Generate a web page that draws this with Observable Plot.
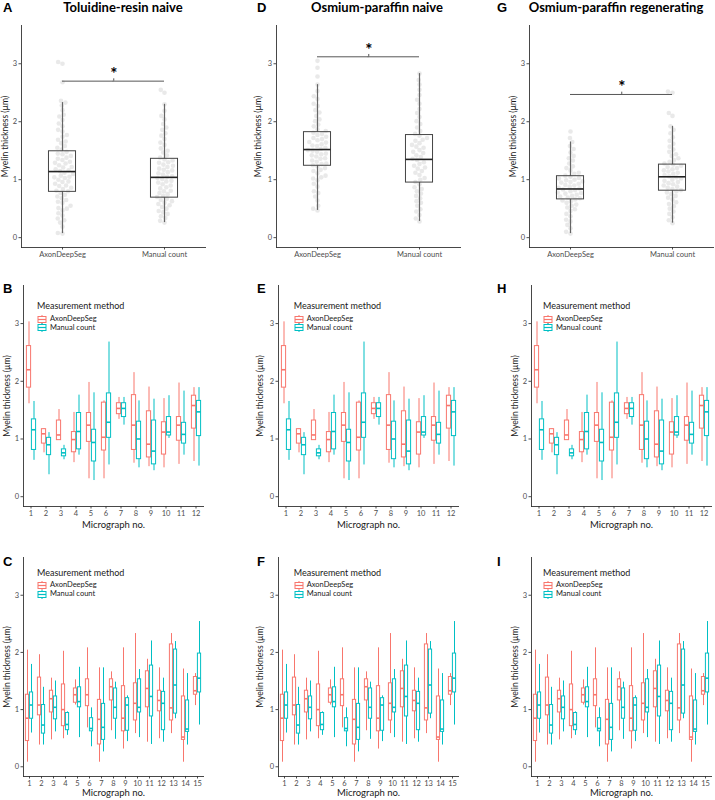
<!DOCTYPE html>
<html><head><meta charset="utf-8">
<script src="https://cdn.jsdelivr.net/npm/d3@7"></script>
<script src="https://cdn.jsdelivr.net/npm/@observablehq/plot@0.6"></script>
<style>
html,body{margin:0;padding:0}
body{width:715px;height:800px;overflow:hidden;background:#fff;position:relative;font-family:Lato,sans-serif}
.panel{position:absolute}
.panel svg{max-width:none !important}
.letter{position:absolute;font-family:"Liberation Sans",Arial,sans-serif;font-weight:bold;font-size:13px;line-height:1;color:#000}
.title{position:absolute;font-family:Lato,sans-serif;font-weight:bold;font-size:13px;line-height:14px;white-space:nowrap;transform:translateX(-50%);color:#000}
.lg{position:absolute;font-family:Lato,sans-serif;color:#1a1a1a;white-space:nowrap;line-height:1}
.lgt{font-size:9px}
.lge{font-size:7.5px;display:flex;align-items:center}
.lge svg{margin-right:3px}
g[aria-label="y-axis label"] text{font-size:8.5px;fill:#1a1a1a}
g[aria-label="fx-axis label"] text{font-size:9.5px;fill:#1a1a1a}
</style></head><body>
<script>
// ---------- data ----------
const methods = ["AxonDeepSeg", "Manual count"];
const colors = ["#F8766D", "#00BFC4"];
const yTicks = [0, 1, 2, 3];
const panelTitles = ["Toluidine-resin naive", "Osmium-paraffin naive", "Osmium-paraffin regenerating"];
const letters = [["A", "B", "C"], ["D", "E", "F"], ["G", "H", "I"]];
const legendTitle = "Measurement method";
const xLabelMicro = "Micrograph no.";
const yLabel = "Myelin thickness (µm)";

// top row box summaries [lo, q1, median, q3, hi]
const topADS = [[0.07, 0.79, 1.14, 1.49, 2.33], [0.47, 1.24, 1.52, 1.82, 2.64], [0.07, 0.66, 0.84, 1.06, 1.65]];
const topManual = [[0.26, 0.69, 1.04, 1.36, 2.30], [0.28, 0.95, 1.35, 1.77, 2.83], [0.25, 0.81, 1.05, 1.26, 1.92]];
const sigY = [2.70, 3.12, 2.47];

// top row individual measurements (estimated)
const ptsADS = [
  [0.07,0.08,0.19,0.26,0.3,0.33,0.38,0.42,0.47,0.5,0.51,0.55,0.6,0.62,0.65,0.68,0.71,0.74,0.77,0.8,0.81,0.84,0.86,0.89,0.9,0.93,0.96,0.97,1.0,1.03,1.04,1.05,1.07,1.1,1.12,1.15,1.16,1.18,1.21,1.22,1.25,1.28,1.29,1.31,1.34,1.36,1.38,1.41,1.44,1.45,1.48,1.52,1.55,1.58,1.63,1.66,1.69,1.74,1.77,1.83,1.86,1.92,1.97,2.03,2.09,2.12,2.2,2.28,2.33,2.36,2.68,3.0,3.03],
  [0.47,0.5,0.55,0.64,0.71,0.77,0.8,0.88,0.93,0.99,1.02,1.04,1.07,1.11,1.15,1.17,1.2,1.23,1.25,1.27,1.28,1.31,1.33,1.36,1.37,1.4,1.42,1.44,1.45,1.48,1.5,1.51,1.53,1.55,1.58,1.59,1.61,1.64,1.65,1.68,1.7,1.72,1.74,1.77,1.79,1.81,1.84,1.87,1.92,1.95,2.01,2.04,2.1,2.16,2.2,2.27,2.31,2.39,2.44,2.53,2.64,2.78,2.93,3.05],
  [0.07,0.1,0.16,0.22,0.28,0.31,0.37,0.41,0.46,0.49,0.52,0.55,0.57,0.6,0.63,0.64,0.66,0.68,0.69,0.71,0.72,0.74,0.76,0.77,0.78,0.8,0.82,0.83,0.85,0.86,0.88,0.9,0.91,0.93,0.95,0.96,0.97,0.99,1.0,1.02,1.03,1.05,1.07,1.1,1.12,1.16,1.2,1.23,1.28,1.33,1.37,1.41,1.47,1.53,1.58,1.65,1.72,1.83]
];
const ptsManual = [
  [0.26,0.29,0.34,0.37,0.41,0.44,0.46,0.5,0.53,0.56,0.58,0.6,0.63,0.65,0.67,0.7,0.72,0.75,0.77,0.8,0.81,0.85,0.87,0.9,0.92,0.95,0.97,0.98,1.01,1.03,1.05,1.06,1.09,1.11,1.13,1.16,1.17,1.19,1.22,1.24,1.26,1.29,1.3,1.33,1.35,1.38,1.42,1.47,1.5,1.54,1.6,1.64,1.7,1.76,1.8,1.86,1.9,1.96,2.04,2.1,2.19,2.3,2.5,2.55],
  [0.28,0.33,0.39,0.45,0.49,0.55,0.6,0.63,0.68,0.72,0.76,0.8,0.84,0.87,0.92,0.96,1.0,1.03,1.08,1.12,1.15,1.19,1.21,1.24,1.27,1.3,1.34,1.36,1.39,1.42,1.46,1.48,1.51,1.55,1.57,1.6,1.63,1.67,1.69,1.72,1.76,1.79,1.84,1.9,1.96,2.01,2.08,2.15,2.22,2.31,2.38,2.46,2.55,2.64,2.72,2.83],
  [0.25,0.3,0.35,0.41,0.45,0.5,0.54,0.58,0.61,0.66,0.69,0.72,0.75,0.78,0.8,0.82,0.84,0.86,0.88,0.9,0.92,0.94,0.96,0.98,1.0,1.02,1.04,1.06,1.08,1.1,1.12,1.14,1.16,1.18,1.2,1.22,1.24,1.26,1.28,1.31,1.34,1.37,1.41,1.44,1.48,1.52,1.57,1.62,1.67,1.73,1.8,1.86,1.92,2.1,2.15,2.5,2.52]
];

// middle row: micrographs 1-12, [lo, q1, median, q3, hi]
const micro12 = [1,2,3,4,5,6,7,8,9,10,11,12];
const midADS = [[1.61,1.89,2.20,2.61,3.03],[0.76,0.92,1.09,1.17,1.18],[0.98,0.98,1.07,1.32,1.51],[0.59,0.77,0.99,1.12,1.46],[0.31,0.95,1.24,1.45,1.98],[0.31,0.80,1.03,1.63,1.66],[1.34,1.43,1.53,1.62,1.72],[0.58,0.81,1.24,1.76,2.15],[0.52,0.68,0.91,1.48,1.90],[0.50,0.73,1.12,1.29,1.70],[0.56,0.97,1.24,1.38,1.97],[0.61,1.18,1.58,1.75,1.89]];
const midManual = [[0.63,0.81,1.16,1.34,1.65],[0.38,0.72,0.90,1.02,1.11],[0.64,0.70,0.76,0.82,0.89],[0.72,0.82,1.13,1.45,1.76],[0.28,0.61,0.94,1.16,1.80],[0.55,1.02,1.29,1.79,2.68],[1.24,1.38,1.53,1.62,1.72],[0.50,0.65,1.00,1.30,1.66],[0.45,0.56,0.79,1.32,1.69],[1.01,1.06,1.12,1.38,1.75],[0.72,0.92,1.08,1.28,1.83],[0.53,1.05,1.47,1.66,1.89]];

// bottom row: micrographs 1-15
const micro15 = [1,2,3,4,5,6,7,8,9,10,11,12,13,14,15];
const botADS = [[0.08,0.45,0.85,1.26,2.04],[0.38,0.90,1.08,1.56,1.96],[0.47,0.95,1.19,1.33,1.55],[0.49,0.71,1.00,1.44,2.02],[1.08,1.12,1.26,1.37,1.52],[0.68,1.06,1.26,1.53,2.08],[0.08,0.39,0.83,1.17,1.73],[0.63,1.16,1.40,1.53,1.66],[0.31,0.62,0.85,1.41,2.08],[0.58,0.81,1.11,1.46,2.33],[0.43,1.04,1.37,1.67,1.88],[0.49,0.97,1.16,1.33,1.73],[0.58,0.81,1.03,2.14,2.33],[0.08,0.47,0.52,1.23,1.71],[1.07,1.26,1.33,1.57,1.63]];
const botManual = [[0.59,0.84,1.08,1.30,1.79],[0.38,0.58,0.73,1.08,1.39],[0.61,0.83,1.04,1.23,1.50],[0.55,0.64,0.74,0.94,0.96],[0.51,1.04,1.14,1.39,1.74],[0.35,0.62,0.67,0.85,1.03],[0.26,0.47,0.69,1.10,1.73],[0.48,0.84,1.04,1.37,1.48],[0.44,0.63,1.08,1.20,1.24],[0.51,0.95,1.04,1.53,1.70],[0.39,0.88,1.23,1.77,2.20],[0.43,0.64,1.11,1.31,1.55],[0.84,0.93,1.43,2.05,2.19],[0.38,0.61,0.66,1.16,1.63],[0.73,1.30,1.55,1.98,2.54]];

// ---------- layout ----------
const colAxisX = [21, 275.7, 529];
const frameW = 184.5;
const rowFrameTop = [25, 285, 557];
const frameH = [222, 221, 219];
const mL = 24, mR = 10, mT = 20;
const mB = [30, 30, 24];
const xLabelOff = [0, 21, 19.5];
const yDomain = [-0.17, 3.66];
const labelOff = [20, 21.5, 20];
const legendDX = [16, 18, 14];
const legendTop = [[306, 319, 327.5], [573, 585, 594]];
const titleCX = [123, 377, 616];
const panelW = mL + frameW + mR;

const baseStyle = {fontFamily: "Lato, sans-serif", fontSize: "7.5px", color: "#4d4d4d", background: "transparent", overflow: "visible"};

function yOpt(c) {
  return {domain: yDomain, ticks: yTicks, tickFormat: d3.format("d"), tickSize: 2.5, tickPadding: 2, label: yLabel, labelAnchor: "center", labelOffset: labelOff[c], labelArrow: "none"};
}

function axisLines() {
  return [
    Plot.frame({anchor: "left", facet: "super", stroke: "#333", strokeWidth: 0.9}),
    Plot.frame({anchor: "bottom", facet: "super", stroke: "#333", strokeWidth: 0.9})
  ];
}

function topPanel(c) {
  const boxes = methods.map((m, i) => {
    const s = (i ? topManual : topADS)[c];
    return {g: m, lo: s[0], q1: s[1], med: s[2], q3: s[3], hi: s[4]};
  });
  const pts = [];
  ptsADS[c].forEach(v => pts.push({g: methods[0], v}));
  ptsManual[c].forEach(v => pts.push({g: methods[1], v}));
  const first = [{g: methods[0]}], second = [{g: methods[1]}];
  const s = sigY[c];
  return Plot.plot({
    width: panelW, height: mT + frameH[0] + mB[0],
    marginLeft: mL, marginRight: mR, marginTop: mT, marginBottom: mB[0],
    style: baseStyle,
    fx: {domain: methods, padding: 0.2, axis: "bottom", label: null, tickSize: 2.5, tickPadding: 2},
    x: {domain: [-1, 1], axis: null},
    y: yOpt(c),
    marks: [
      ...axisLines(),
      Plot.dot(pts, Plot.dodgeX({anchor: "middle", padding: 0.1, y: "v", fx: "g", r: 2.3, fill: "#7a7a7a", fillOpacity: 0.17})),
      Plot.ruleX(boxes, {fx: "g", x: 0, y1: "lo", y2: "q1", stroke: "#666", strokeWidth: 1.2}),
      Plot.ruleX(boxes, {fx: "g", x: 0, y1: "q3", y2: "hi", stroke: "#666", strokeWidth: 1.2}),
      Plot.rect(boxes, {fx: "g", x1: -0.33, x2: 0.33, y1: "q1", y2: "q3", fill: "none", stroke: "#444", strokeWidth: 1}),
      Plot.ruleY(boxes, {fx: "g", x1: -0.33, x2: 0.33, y: "med", stroke: "#222", strokeWidth: 1.6}),
      Plot.ruleY(first, {fx: "g", x1: 0, x2: 1.25, y: () => s, stroke: "#444", strokeWidth: 0.9}),
      Plot.ruleY(second, {fx: "g", x1: -1.25, x2: 0, y: () => s, stroke: "#444", strokeWidth: 0.9}),
      Plot.ruleX(first, {fx: "g", x: 1.25, y1: () => s, y2: () => s + 0.04, stroke: "#444", strokeWidth: 0.9}),
      Plot.text(first, {fx: "g", x: 1.25, y: () => s + 0.02, text: () => "*", fontSize: 17, fontWeight: "bold", fill: "#000", lineAnchor: "bottom"})
    ]
  });
}

function groupPanel(c, r, micro, ads, man) {
  const data = [];
  micro.forEach((m, i) => {
    [ads, man].forEach((arr, k) => {
      const s = arr[i];
      data.push({m, method: methods[k], lo: s[0], q1: s[1], med: s[2], q3: s[3], hi: s[4]});
    });
  });
  return Plot.plot({
    width: panelW, height: mT + frameH[r] + mB[r],
    marginLeft: mL, marginRight: mR, marginTop: mT, marginBottom: mB[r],
    style: baseStyle,
    fx: {domain: micro, padding: 0, axis: "bottom", label: xLabelMicro, labelAnchor: "center", labelOffset: xLabelOff[r], labelArrow: "none", tickSize: 2.5, tickPadding: 1.5},
    x: {domain: methods, paddingInner: 0, paddingOuter: 0.333, axis: null},
    y: yOpt(c),
    color: {domain: methods, range: colors},
    marks: [
      ...axisLines(),
      Plot.ruleX(data, {fx: "m", x: "method", y1: "lo", y2: "q1", stroke: "method", strokeWidth: 1}),
      Plot.ruleX(data, {fx: "m", x: "method", y1: "q3", y2: "hi", stroke: "method", strokeWidth: 1}),
      Plot.barY(data, {fx: "m", x: "method", y1: "q1", y2: "q3", fill: "none", stroke: "method", strokeWidth: 1, insetLeft: 0.4, insetRight: 0.4}),
      Plot.tickY(data, {fx: "m", x: "method", y: "med", stroke: "method", strokeWidth: 1.6, insetLeft: 0.4, insetRight: 0.4})
    ]
  });
}

function place(el, left, top) {
  const d = document.createElement("div");
  d.className = "panel";
  d.style.left = left + "px";
  d.style.top = top + "px";
  d.style.width = panelW + "px";
  d.appendChild(el);
  document.body.appendChild(d);
}

function keySvg(color) {
  return `<svg width="10" height="9" viewBox="0 0 10 9"><line x1="5" x2="5" y1="0" y2="9" stroke="${color}" stroke-width="1"/><rect x="1" y="1.5" width="8" height="6" fill="#fff" stroke="${color}" stroke-width="1"/><line x1="1" x2="9" y1="4.5" y2="4.5" stroke="${color}" stroke-width="1.2"/></svg>`;
}

function legend(c, r) {
  const lt = legendTop[r - 1];
  const x = colAxisX[c] + legendDX[c];
  const t = document.createElement("div");
  t.className = "lg lgt";
  t.textContent = legendTitle;
  t.style.left = x + "px";
  t.style.top = (lt[0] - 5) + "px";
  document.body.appendChild(t);
  methods.forEach((m, k) => {
    const e = document.createElement("div");
    e.className = "lg lge";
    e.innerHTML = keySvg(colors[k]) + `<span>${m}</span>`;
    e.style.left = x + "px";
    e.style.top = (lt[k + 1] - 4.5) + "px";
    document.body.appendChild(e);
  });
}

for (let c = 0; c < 3; c++) {
  const left = colAxisX[c] - mL;
  place(topPanel(c), left, rowFrameTop[0] - mT);
  place(groupPanel(c, 1, micro12, midADS, midManual), left, rowFrameTop[1] - mT);
  place(groupPanel(c, 2, micro15, botADS, botManual), left, rowFrameTop[2] - mT);
  legend(c, 1);
  legend(c, 2);
  const t = document.createElement("div");
  t.className = "title";
  t.textContent = panelTitles[c];
  t.style.left = titleCX[c] + "px";
  t.style.top = "0px";
  document.body.appendChild(t);
  const letterX = [3, 257, 497][c];
  const letterTops = [1, 282, 555];
  letters[c].forEach((L, r) => {
    const e = document.createElement("div");
    e.className = "letter";
    e.textContent = L;
    e.style.left = letterX + "px";
    e.style.top = letterTops[r] + "px";
    document.body.appendChild(e);
  });
}
</script>
</body></html>
